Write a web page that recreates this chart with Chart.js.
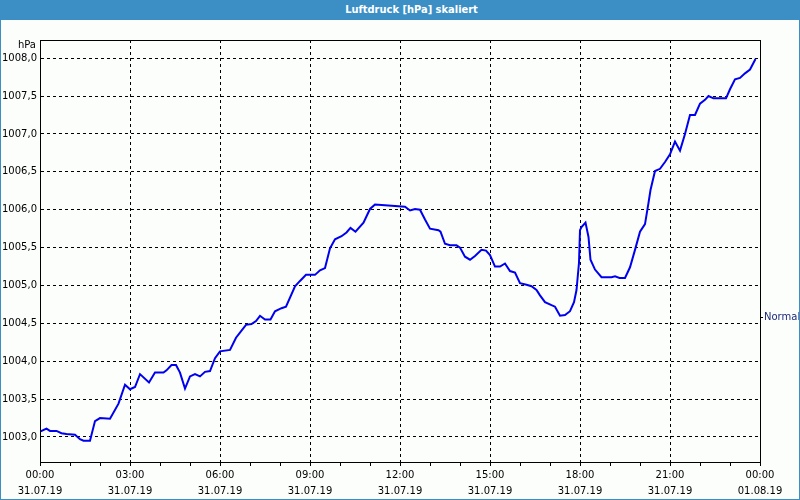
<!DOCTYPE html>
<html>
<head>
<meta charset="utf-8">
<script src="https://cdn.jsdelivr.net/npm/chart.js@4.4.1/dist/chart.umd.min.js"></script>
<style>
    body { margin: 0; background: #fff; }
    #wrap { position: relative; width: 800px; height: 500px; background: #fcfefc; overflow: hidden; }
    #title {
        position: absolute; left: 0; top: 0; width: 800px; height: 20px; box-sizing: border-box;
        padding-left: 23px;
        background: #3c8fc5; color: #fff; text-align: center;
        font: bold 11px "DejaVu Sans Condensed", "DejaVu Sans", sans-serif; line-height: 20px;
    }
    #frame { position: absolute; left: 0; top: 0; width: 798px; height: 498px; border: 1px solid #3c8fc5; pointer-events: none; }
    #chart { position: absolute; left: 0; top: 0; }
</style>
</head>
<body>
<div id="wrap">
    <canvas id="chart" width="800" height="500"></canvas>
    <div id="title">Luftdruck [hPa] skaliert</div>
    <div id="frame"></div>
</div>
<script>
// minutes since 31.07.19 00:00
const times = [0, 13, 20, 33, 43, 53, 70, 80, 87, 100, 110, 120, 140, 157, 170, 180, 190, 200, 218, 230,
    247, 253, 263, 272, 280, 290, 300, 310, 320, 330, 340, 350, 360, 380, 392, 405, 412, 423, 432, 440,
    450, 461, 470, 483, 492, 510, 520, 532, 550, 560, 570, 580, 590, 603, 613, 621, 631, 647, 660, 670,
    690, 710, 730, 740, 750, 760, 770, 780, 797, 801, 810, 820, 833, 840, 850, 860, 870, 883, 892, 900,
    910, 920, 930, 940, 950, 960, 973, 983, 993, 1000, 1010, 1023, 1030, 1040, 1050, 1060, 1068, 1073, 1078, 1080,
    1083, 1091, 1097, 1101, 1110, 1123, 1143, 1150, 1159, 1170, 1180, 1190, 1200, 1210, 1217, 1221, 1230, 1240, 1250, 1260,
    1270, 1280, 1290, 1300, 1310, 1320, 1330, 1337, 1347, 1372, 1380, 1390, 1400, 1410, 1420, 1431];

const pressure = [1003.07, 1003.11, 1003.08, 1003.08, 1003.05, 1003.04, 1003.03, 1002.97, 1002.95, 1002.95,
    1003.21, 1003.25, 1003.24, 1003.44, 1003.69, 1003.63, 1003.66, 1003.83, 1003.72, 1003.85,
    1003.85, 1003.88, 1003.95, 1003.95, 1003.85, 1003.64, 1003.80, 1003.83, 1003.80, 1003.86,
    1003.87, 1004.04, 1004.13, 1004.15, 1004.31, 1004.42, 1004.48, 1004.49, 1004.53, 1004.60,
    1004.55, 1004.55, 1004.66, 1004.70, 1004.72, 1004.99, 1005.06, 1005.14, 1005.14, 1005.20,
    1005.23, 1005.49, 1005.61, 1005.65, 1005.70, 1005.76, 1005.71, 1005.83, 1006.01, 1006.07,
    1006.06, 1006.05, 1006.04, 1005.99, 1006.01, 1006.00, 1005.87, 1005.75, 1005.73, 1005.71,
    1005.55, 1005.53, 1005.53, 1005.50, 1005.38, 1005.34, 1005.39, 1005.47, 1005.46, 1005.40,
    1005.25, 1005.25, 1005.29, 1005.19, 1005.17, 1005.03, 1005.01, 1004.99, 1004.94, 1004.87,
    1004.78, 1004.74, 1004.72, 1004.60, 1004.61, 1004.66, 1004.78, 1004.94, 1005.30, 1005.73,
    1005.77, 1005.83, 1005.64, 1005.34, 1005.21, 1005.11, 1005.11, 1005.12, 1005.10, 1005.10,
    1005.24, 1005.47, 1005.71, 1005.81, 1006.09, 1006.26, 1006.51, 1006.54, 1006.63, 1006.73,
    1006.90, 1006.78, 1007.00, 1007.25, 1007.25, 1007.40, 1007.45, 1007.50, 1007.47, 1007.47,
    1007.59, 1007.72, 1007.74, 1007.80, 1007.85, 1007.99];

const yTicks = [1003.0, 1003.5, 1004.0, 1004.5, 1005.0, 1005.5, 1006.0, 1006.5, 1007.0, 1007.5, 1008.0];
const xTicks = [0, 60, 120, 180, 240, 300, 360, 420, 480, 540, 600, 660, 720, 780, 840, 900, 960, 1020, 1080, 1140, 1200, 1260, 1320, 1380, 1440];
const xDates = ['31.07.19', '01.08.19'];
const normalValue = 1004.58;
const unitLabel = 'hPa';
const normalLabel = 'Normal';

const fontFamily = '"DejaVu Sans", sans-serif';

// frame, unit label and "Normal" marker
const extras = {
    id: 'extras',
    afterDraw(chart) {
        const c = chart.ctx;
        const a = chart.chartArea;
        c.save();
        c.strokeStyle = '#000';
        c.lineWidth = 1;
        c.strokeRect(a.left + 0.5, a.top + 0.5, a.right - a.left, a.bottom - a.top);
        c.font = '10px ' + fontFamily;
        c.fillStyle = '#000';
        c.textAlign = 'right';
        c.textBaseline = 'middle';
        c.fillText(unitLabel, a.left - 4, a.top + 5);
        const ny = Math.round(chart.scales.y.getPixelForValue(normalValue)) + 0.5;
        c.beginPath();
        c.moveTo(a.right, ny);
        c.lineTo(a.right + 3, ny);
        c.stroke();
        c.fillStyle = '#1c2a7a';
        c.textAlign = 'left';
        c.fillText(normalLabel, a.right + 4, ny);
        c.restore();
    }
};

const ctx = document.getElementById('chart').getContext('2d');
const chart = new Chart(ctx, {
    type: 'line',
    data: {
        datasets: [{
            data: times.map((t, i) => ({ x: t, y: pressure[i] })),
            borderColor: '#0000ee',
            borderWidth: 2,
            pointRadius: 0,
            tension: 0,
            fill: false
        }]
    },
    options: {
        responsive: false,
        animation: false,
        layout: { padding: { top: 40, right: 40, left: 0, bottom: 0 } },
        plugins: {
            legend: { display: false },
            tooltip: { enabled: false }
        },
        scales: {
            x: {
                type: 'linear',
                min: 0,
                max: 1440,
                afterBuildTicks: s => { s.ticks = xTicks.map(v => ({ value: v })); },
                afterFit: s => { s.height = 38; },
                grid: {
                    color: c => (c.tick && c.tick.value % 180 === 0) ? '#000' : 'rgba(0,0,0,0)',
                    tickColor: '#000',
                    tickBorderDash: [],
                    tickLength: 4,
                    lineWidth: 1
                },
                border: { display: true, color: '#000', width: 1, dash: [3, 3] },
                ticks: {
                    autoSkip: false,
                    maxRotation: 0,
                    padding: 1,
                    color: '#000',
                    font: { family: fontFamily, size: 10, lineHeight: 1.6 },
                    callback: function (v) {
                        if (v % 180 !== 0) return '';
                        const h = (v / 60) % 24;
                        const hh = (h < 10 ? '0' : '') + h + ':00';
                        return [hh, v >= 1440 ? xDates[1] : xDates[0]];
                    }
                }
            },
            y: {
                min: 1002.67,
                max: 1008.24,
                afterBuildTicks: s => { s.ticks = yTicks.map(v => ({ value: v })); },
                afterFit: s => { s.width = 40; },
                grid: {
                    color: '#000',
                    drawTicks: false,
                    lineWidth: 1
                },
                border: { display: true, color: '#000', width: 1, dash: [3, 3] },
                ticks: {
                    padding: 3,
                    color: '#000',
                    font: { family: fontFamily, size: 10 },
                    callback: v => v.toFixed(1).replace('.', ',')
                }
            }
        }
    },
    plugins: [extras]
});
</script>
</body>
</html>
